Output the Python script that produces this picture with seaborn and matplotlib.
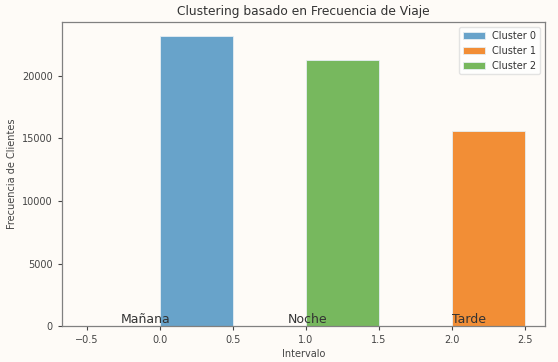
import matplotlib
matplotlib.use("Agg")
import matplotlib.pyplot as plt
import seaborn as sns
import pandas as pd

# datos
intervalos = ["Mañana", "Noche", "Tarde"]
clusters = ["Cluster 0", "Cluster 2", "Cluster 1"]
frecuencias = [23150, 21300, 15580]
legend_order = ["Cluster 0", "Cluster 1", "Cluster 2"]
label_offsets = [-0.10, 0.01, 0.12]

sns.set_style("ticks")
plt.rcParams['font.family'] = ['DejaVu Sans']
bg = "#fefbf7"
palette = {"Cluster 0": "#68a3ca", "Cluster 1": "#f28e36", "Cluster 2": "#77b85e"}

df = pd.DataFrame({"Intervalo": intervalos, "Cluster": clusters, "Frecuencia": frecuencias})

fig = plt.figure(figsize=(5.58, 3.62), dpi=100, facecolor=bg)
ax = fig.add_axes([0.111, 0.099, 0.866, 0.840])
ax.set_facecolor(bg)

handles = {}
for i, row in df.iterrows():
    b = ax.bar(i, row["Frecuencia"], width=0.5, align="edge",
               color=palette[row["Cluster"]], edgecolor="#e6eef2", linewidth=0.6,
               label=row["Cluster"])
    handles[row["Cluster"]] = b
    ax.text(i + label_offsets[i], 0, row["Intervalo"], ha="center", va="bottom",
            fontsize=9, color="#333333")

ax.set_xlim(-0.67, 2.64)
ax.set_ylim(0, 24300)
ax.set_xticks([-0.5, 0.0, 0.5, 1.0, 1.5, 2.0, 2.5])
ax.set_yticks([0, 5000, 10000, 15000, 20000])
ax.tick_params(labelsize=7, colors="#444444", length=3, width=0.8)
for s in ax.spines.values():
    s.set_color("#808080")
    s.set_linewidth(0.9)

ax.set_title("Clustering basado en Frecuencia de Viaje", fontsize=8.8, color="#333333", pad=5)
ax.set_xlabel("Intervalo", fontsize=7, color="#444444", labelpad=3)
ax.set_ylabel("Frecuencia de Clientes", fontsize=7, color="#444444", labelpad=4)

leg = ax.legend([handles[c] for c in legend_order], legend_order, loc="upper right",
                fontsize=7, frameon=True, framealpha=0.8, edgecolor="#dddddd",
                handlelength=2.2)
for t in leg.get_texts():
    t.set_color("#333333")

fig.savefig("out.png", dpi=100, facecolor=bg)
